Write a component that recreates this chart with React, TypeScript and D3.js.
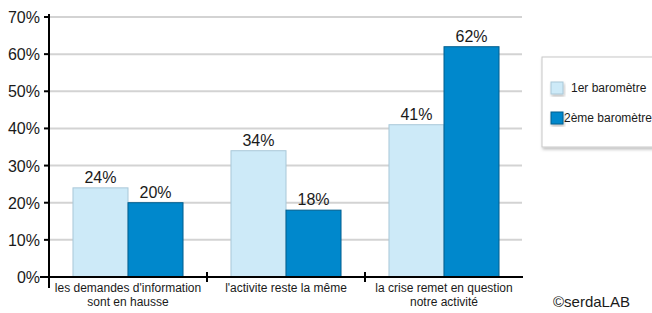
import * as d3 from 'd3';
import { useEffect, useRef } from 'react';

const categories = [
  ["les demandes d'information", 'sont en hausse'],
  ["l'activite reste la même"],
  ['la crise remet en question', 'notre activité'],
];
const barometre1 = [24, 34, 41];
const barometre2 = [20, 18, 62];
const seriesNames = ['1er baromètre', '2ème baromètre'];
const yTicks = [0, 10, 20, 30, 40, 50, 60, 70];

const W = 652;
const H = 313;
const FONT = "'Liberation Sans', Arial, sans-serif";
const fills = ['#cdeaf8', '#0088cc'];
const strokes = ['#a9c8d8', '#005e8e'];

const App = () => {
  const svgRef = useRef(null);

  useEffect(() => {
    const svg = d3.select(svgRef.current);
    svg.selectAll('*').remove();

    const left = 49;
    const right = 523;
    const top = 17;
    const bottom = 277;

    const xScale = d3
      .scaleBand()
      .domain(categories.map((c, i) => String(i)))
      .range([left, right])
      .paddingInner(0)
      .paddingOuter(0);

    const inner = d3
      .scaleBand()
      .domain(['0', '1'])
      .range([0, xScale.bandwidth()])
      .paddingOuter(0.436)
      .paddingInner(0);

    const yScale = d3.scaleLinear().domain([0, 70]).range([bottom, top]);

    // grid
    svg
      .selectAll('.grid')
      .data(yTicks.slice(1))
      .join('line')
      .attr('class', 'grid')
      .attr('x1', left)
      .attr('x2', right - 1)
      .attr('y1', (d) => yScale(d))
      .attr('y2', (d) => yScale(d))
      .attr('stroke', '#d3d3d3')
      .attr('stroke-width', 2);

    // bars
    const data = categories.map((c, i) => [barometre1[i], barometre2[i]]);
    const groups = svg
      .selectAll('.grp')
      .data(data)
      .join('g')
      .attr('class', 'grp')
      .attr('transform', (d, i) => `translate(${xScale(String(i))},0)`);

    groups
      .selectAll('rect')
      .data((d) => d)
      .join('rect')
      .attr('x', (d, j) => inner(String(j)))
      .attr('y', (d) => yScale(d))
      .attr('width', inner.bandwidth())
      .attr('height', (d) => bottom - yScale(d))
      .attr('fill', (d, j) => fills[j])
      .attr('stroke', (d, j) => strokes[j])
      .attr('stroke-width', 1);

    groups
      .selectAll('text')
      .data((d) => d)
      .join('text')
      .attr('x', (d, j) => inner(String(j)) + inner.bandwidth() / 2)
      .attr('y', (d) => yScale(d) - 5)
      .attr('text-anchor', 'middle')
      .style('font-family', FONT)
      .style('font-size', '16px')
      .attr('fill', '#1a1a1a')
      .text((d) => `${d}%`);

    // y axis
    svg
      .append('line')
      .attr('x1', left)
      .attr('x2', left)
      .attr('y1', 14)
      .attr('y2', 288)
      .attr('stroke', '#000')
      .attr('stroke-width', 2);

    svg
      .selectAll('.ytick')
      .data(yTicks)
      .join('line')
      .attr('class', 'ytick')
      .attr('x1', left - 5)
      .attr('x2', left)
      .attr('y1', (d) => yScale(d))
      .attr('y2', (d) => yScale(d))
      .attr('stroke', '#000')
      .attr('stroke-width', 2);

    svg
      .selectAll('.ylabel')
      .data(yTicks)
      .join('text')
      .attr('class', 'ylabel')
      .attr('x', 40)
      .attr('y', (d) => yScale(d) + 6)
      .attr('text-anchor', 'end')
      .style('font-family', FONT)
      .style('font-size', '16px')
      .attr('fill', '#1a1a1a')
      .text((d) => `${d}%`);

    // x axis
    svg
      .append('line')
      .attr('x1', 40)
      .attr('x2', right)
      .attr('y1', bottom)
      .attr('y2', bottom)
      .attr('stroke', '#000')
      .attr('stroke-width', 2);

    svg
      .selectAll('.xtick')
      .data(categories.slice(1))
      .join('line')
      .attr('class', 'xtick')
      .attr('x1', (d, i) => xScale(String(i + 1)))
      .attr('x2', (d, i) => xScale(String(i + 1)))
      .attr('y1', bottom - 5)
      .attr('y2', bottom + 5)
      .attr('stroke', '#000')
      .attr('stroke-width', 2);

    const xl = svg
      .selectAll('.xlabel')
      .data(categories)
      .join('text')
      .attr('class', 'xlabel')
      .attr('text-anchor', 'middle')
      .style('font-family', FONT)
      .style('font-size', '12px')
      .attr('fill', '#1a1a1a');

    xl.selectAll('tspan')
      .data((d, i) => d.map((t) => ({ t, i })))
      .join('tspan')
      .attr('x', (d) => xScale(String(d.i)) + xScale.bandwidth() / 2)
      .attr('y', (d, k) => 292 + k * 14)
      .text((d) => d.t);

    // legend
    const defs = svg.append('defs');
    const f = defs.append('filter').attr('id', 'shadow').attr('x', '-10%').attr('y', '-10%').attr('width', '130%').attr('height', '130%');
    f.append('feDropShadow').attr('dx', 1).attr('dy', 2).attr('stdDeviation', 1.5).attr('flood-color', '#000').attr('flood-opacity', 0.25);

    svg
      .append('rect')
      .attr('x', 542)
      .attr('y', 57)
      .attr('width', 120)
      .attr('height', 90)
      .attr('fill', '#fff')
      .attr('stroke', '#c8c8c8')
      .attr('filter', 'url(#shadow)');

    const leg = svg
      .selectAll('.leg')
      .data(seriesNames)
      .join('g')
      .attr('class', 'leg')
      .attr('transform', (d, i) => `translate(551, ${82 + i * 30})`);

    leg
      .append('rect')
      .attr('width', 12)
      .attr('height', 12)
      .attr('fill', (d, i) => fills[i])
      .attr('stroke', (d, i) => strokes[i])
      .attr('filter', 'url(#shadow)');

    leg
      .append('text')
      .attr('x', (d, i) => (i === 0 ? 20 : 13))
      .attr('y', 10)
      .style('font-family', FONT)
      .style('font-size', '12px')
      .attr('fill', '#1a1a1a')
      .text((d) => d);

    svg
      .append('text')
      .attr('x', 553)
      .attr('y', 307)
      .style('font-family', FONT)
      .style('font-size', '15px')
      .attr('fill', '#1a1a1a')
      .text('©serdaLAB');
  }, []);

  return (
    <svg
      ref={svgRef}
      width={W}
      height={H}
      style={{ position: 'absolute', left: 0, top: 0, background: '#fff' }}
    ></svg>
  );
};

export default App;
